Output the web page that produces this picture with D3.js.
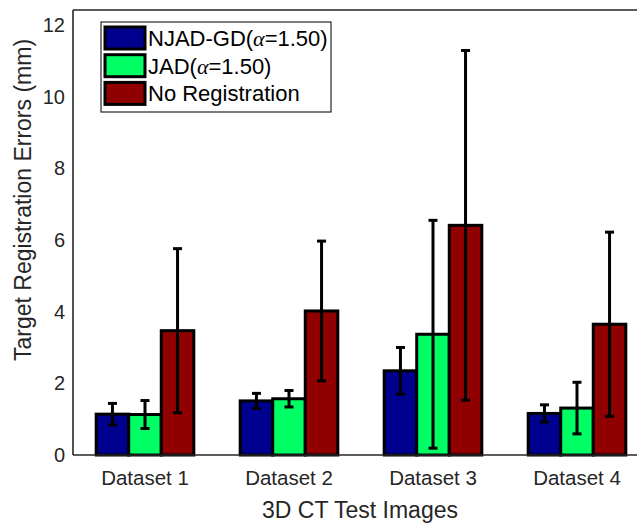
<!DOCTYPE html>
<html><head><meta charset="utf-8">
<script src="https://cdn.jsdelivr.net/npm/d3@7"></script>
<style>body{margin:0;background:#fff}svg{display:block}</style>
</head><body>
<svg id="c" width="637" height="524"></svg>
<script>
const categories = ["Dataset 1","Dataset 2","Dataset 3","Dataset 4"];
const seriesNames = ["NJAD-GD", "JAD", "No Registration"];
const njadMean = [1.14, 1.51, 2.35, 1.16];
const njadErr  = [0.30, 0.21, 0.65, 0.24];
const jadMean  = [1.13, 1.57, 3.37, 1.31];
const jadErr   = [0.39, 0.23, 3.18, 0.72];
const noRegMean = [3.47, 4.02, 6.41, 3.65];
const noRegErr  = [2.29, 1.95, 4.88, 2.57];
const yTicks = [0, 2, 4, 6, 8, 10, 12];
const colors = ["#00008f", "#00ff64", "#900000"];

(function () {
const series = [
  {mean: njadMean, err: njadErr},
  {mean: jadMean, err: jadErr},
  {mean: noRegMean, err: noRegErr}
];

const svg = d3.select("#c");
const mLeft = 73, mTop = 10, mBottom = 455;
const x = d3.scaleLinear().domain([0.5, 4.5]).range([mLeft, mLeft + 576]);
const y = d3.scaleLinear().domain([0, 12.42]).range([mBottom, mTop]);
const barW = 0.226;
const textCol = "#262626";
const font = "'Liberation Sans', Arial, sans-serif";

// bars
series.forEach((s, si) => {
  const off = (si - 1) * barW;
  const g = svg.append("g");
  g.selectAll("rect").data(s.mean).enter().append("rect")
    .attr("x", (d, i) => x(i + 1 + off - barW / 2))
    .attr("width", x(barW) - x(0))
    .attr("y", d => y(d))
    .attr("height", d => y(0) - y(d))
    .attr("fill", colors[si])
    .attr("stroke", "#000")
    .attr("stroke-width", 3);
});

// error bars
series.forEach((s, si) => {
  const off = (si - 1) * barW;
  const g = svg.append("g").attr("stroke", "#000").attr("stroke-width", 3);
  s.mean.forEach((m, i) => {
    const cx = x(i + 1 + off);
    const lo = y(m - s.err[i]), hi = y(m + s.err[i]);
    g.append("line").attr("x1", cx).attr("x2", cx).attr("y1", lo).attr("y2", hi);
    g.append("line").attr("x1", cx - 4.5).attr("x2", cx + 4.5).attr("y1", lo).attr("y2", lo);
    g.append("line").attr("x1", cx - 4.5).attr("x2", cx + 4.5).attr("y1", hi).attr("y2", hi);
  });
});

// axes frame
const axG = svg.append("g").attr("stroke", textCol).attr("stroke-width", 1.6).attr("fill", "none");
axG.append("line").attr("x1", mLeft).attr("x2", 637).attr("y1", y(0)).attr("y2", y(0));
axG.append("line").attr("x1", mLeft).attr("x2", 637).attr("y1", mTop).attr("y2", mTop);
axG.append("line").attr("x1", mLeft).attr("x2", mLeft).attr("y1", mTop).attr("y2", y(0));

// y ticks labels
svg.append("g").selectAll("text").data(yTicks).enter().append("text")
  .attr("x", 65).attr("y", d => y(d))
  .attr("dy", "0.35em")
  .attr("text-anchor", "end")
  .attr("font-family", font).attr("font-size", 20).attr("fill", textCol)
  .text(d => d);

// x tick labels
svg.append("g").selectAll("text").data(categories).enter().append("text")
  .attr("x", (d, i) => x(i + 1)).attr("y", 485)
  .attr("text-anchor", "middle")
  .attr("font-family", font).attr("font-size", 20.5).attr("fill", textCol)
  .text(d => d);

// axis titles
svg.append("text").attr("x", 360).attr("y", 518)
  .attr("text-anchor", "middle")
  .attr("font-family", font).attr("font-size", 23).attr("fill", textCol)
  .text("3D CT Test Images");
svg.append("text")
  .attr("transform", "translate(31,200) rotate(-90)")
  .attr("text-anchor", "middle")
  .attr("font-family", font).attr("font-size", 23).attr("fill", textCol)
  .text("Target Registration Errors (mm)");

// legend
const leg = svg.append("g");
leg.append("rect").attr("x", 101).attr("y", 22).attr("width", 230).attr("height", 90)
  .attr("fill", "#fff").attr("stroke", textCol).attr("stroke-width", 1.2);
const legRows = [
  {name: seriesNames[0], alpha: true},
  {name: seriesNames[1], alpha: true},
  {name: seriesNames[2], alpha: false}
];
legRows.forEach((r, i) => {
  const cy = 38 + i * 27.7;
  leg.append("rect").attr("x", 105).attr("y", cy - 11).attr("width", 40).attr("height", 22)
    .attr("fill", colors[i]).attr("stroke", "#000").attr("stroke-width", 3);
  const t = leg.append("text").attr("x", 148).attr("y", cy + 8)
    .attr("font-family", font).attr("font-size", 22).attr("fill", "#000");
  if (r.alpha) {
    t.append("tspan").text(r.name + "(");
    t.append("tspan").attr("font-family", "'Liberation Serif', 'DejaVu Serif', serif").attr("font-style", "italic").text("α");
    t.append("tspan").text("=1.50)");
  } else {
    t.text(r.name);
  }
});
})();
</script>
</body></html>
